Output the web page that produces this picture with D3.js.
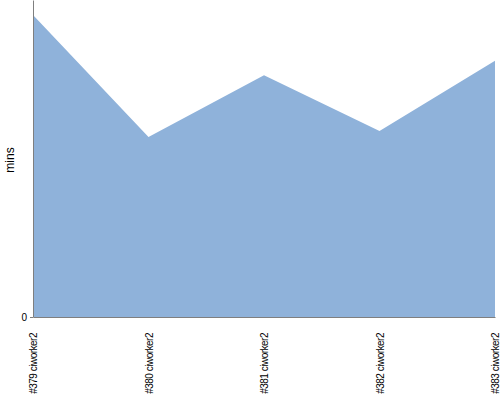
<!DOCTYPE html>
<html>
<head>
<meta charset="utf-8">
<script src="https://cdn.jsdelivr.net/npm/d3@7"></script>
<style>
  body { margin: 0; background: #fff; }
  text { font-family: "Liberation Sans", Arial, sans-serif; }
</style>
</head>
<body>
<svg id="chart" width="500" height="400"></svg>
<script>
const builds = ["#379 ciworker2", "#380 ciworker2", "#381 ciworker2", "#382 ciworker2", "#383 ciworker2"];
const mins = [95.3, 56.8, 76.3, 58.7, 80.8];
const yTicks = [0];

const margin = { top: 0, right: 5, bottom: 83, left: 33 };
const width = 500 - margin.left - margin.right;
const height = 400 - margin.top - margin.bottom;

const svg = d3.select("#chart")
  .append("g")
  .attr("transform", "translate(" + margin.left + "," + margin.top + ")");

const x = d3.scalePoint().domain(builds).range([0, width]);
const y = d3.scaleLinear().domain([0, 100]).range([height, 0]);

const data = builds.map((b, i) => ({ build: b, value: mins[i] }));

const area = d3.area()
  .x(d => x(d.build))
  .y0(height)
  .y1(d => y(d.value));

svg.append("path")
  .datum(data)
  .attr("d", area)
  .attr("fill", "#8fb2da");

// y axis
const yAxis = svg.append("g")
  .call(d3.axisLeft(y).tickValues(yTicks).tickSize(3).tickSizeOuter(0));
yAxis.select(".domain").attr("stroke", "#7f7f7f");
yAxis.selectAll(".tick line").attr("stroke", "#7f7f7f");
yAxis.selectAll("text").attr("font-size", 10).attr("fill", "#000")
  .attr("font-family", "Liberation Sans, Arial, sans-serif");

// x axis
const xAxis = svg.append("g")
  .attr("transform", "translate(0," + height + ")")
  .call(d3.axisBottom(x).tickSize(0).tickSizeOuter(0));
xAxis.select(".domain").attr("stroke", "#7f7f7f");
xAxis.selectAll("text")
  .attr("font-size", 10)
  .attr("fill", "#000")
  .attr("font-family", "Liberation Sans, Arial, sans-serif")
  .attr("letter-spacing", "-0.5px")
  .attr("text-anchor", "end")
  .attr("transform", "rotate(-90)")
  .attr("x", -16)
  .attr("y", 0)
  .attr("dy", "0.35em");

svg.append("text")
  .attr("transform", "rotate(-90)")
  .attr("x", -160)
  .attr("y", -19)
  .attr("text-anchor", "middle")
  .attr("font-size", 12)
  .text("mins");
</script>
</body>
</html>
